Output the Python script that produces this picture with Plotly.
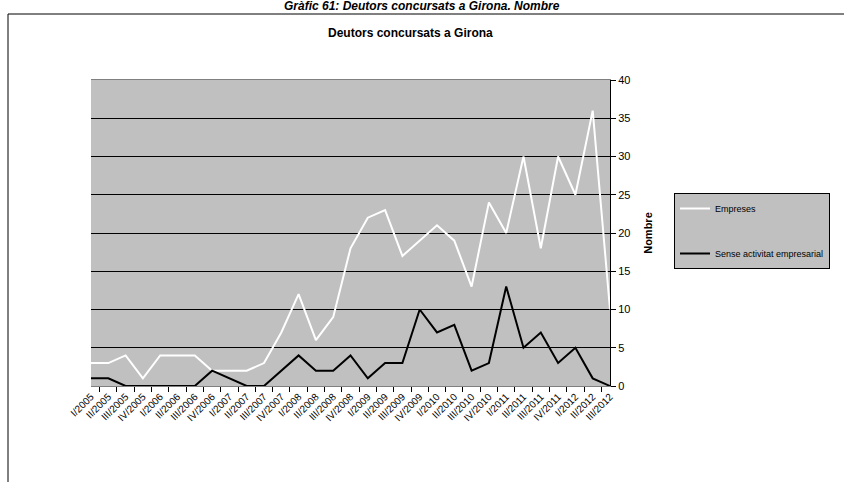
import plotly.graph_objects as go

categories = ["I/2005", "II/2005", "III/2005", "IV/2005",
              "I/2006", "II/2006", "III/2006", "IV/2006",
              "I/2007", "II/2007", "III/2007", "IV/2007",
              "I/2008", "II/2008", "III/2008", "IV/2008",
              "I/2009", "II/2009", "III/2009", "IV/2009",
              "I/2010", "II/2010", "III/2010", "IV/2010",
              "I/2011", "II/2011", "III/2011", "IV/2011",
              "I/2012", "II/2012", "III/2012"]
empreses = [3, 3, 4, 1, 4, 4, 4, 2, 2, 2, 3, 7, 12, 6, 9, 18, 22, 23, 17, 19,
            21, 19, 13, 24, 20, 30, 18, 30, 25, 36, 10]
sense_activitat = [1, 1, 0, 0, 0, 0, 0, 2, 1, 0, 0, 2, 4, 2, 2, 4, 1, 3, 3, 10,
                   7, 8, 2, 3, 13, 5, 7, 3, 5, 1, 0]
y_ticks = [0, 5, 10, 15, 20, 25, 30, 35, 40]

W, H = 844, 482
FONT = "Liberation Sans, Arial, sans-serif"

fig = go.Figure()
fig.add_trace(go.Scatter(x=categories, y=empreses, mode="lines", name="Empreses",
                         line=dict(color="white", width=2), legendgroup="a"))
fig.add_trace(go.Scatter(x=categories, y=sense_activitat, mode="lines",
                         name="Sense activitat empresarial",
                         line=dict(color="black", width=2), legendgroup="b"))

x0, x1 = 91 / W, 610 / W
y_top, y_bot = 1 - 80 / H, 1 - 386 / H

fig.update_layout(
    width=W, height=H,
    margin=dict(l=0, r=0, t=0, b=0, autoexpand=False),
    paper_bgcolor="white",
    plot_bgcolor="#C0C0C0",
    font=dict(family=FONT, size=10, color="black"),
    xaxis=dict(domain=[x0, x1], type="category", tickangle=-45,
               tickson="boundaries", ticks="outside", ticklen=5,
               tickcolor="black", showgrid=False, showline=True,
               linecolor="#808080", linewidth=1, mirror=True,
               automargin=False,
               tickfont=dict(size=10, family=FONT), fixedrange=True),
    yaxis=dict(domain=[y_bot, y_top], side="right", range=[0, 40],
               tickvals=y_ticks, ticks="outside", ticklen=5, tickcolor="black",
               showgrid=True, gridcolor="black", gridwidth=1,
               showline=True, linecolor="black", linewidth=1,
               zeroline=False, automargin=False,
               tickfont=dict(size=11, family=FONT),
               title=dict(text="<b>Nombre</b>", font=dict(size=11, family=FONT),
                          standoff=14)),
    legend=dict(x=674 / W, y=1 - 193 / H, xanchor="left", yanchor="top",
                bgcolor="#C0C0C0", bordercolor="black", borderwidth=1,
                font=dict(size=9, family=FONT), tracegroupgap=26,
                traceorder="grouped", itemwidth=30),
    showlegend=True,
)

# main title and subtitle
fig.add_annotation(text="<b><i>Gràfic 61: Deutors concursats a Girona. Nombre</i></b>",
                   x=422 / W, y=1 - 6 / H, xref="paper", yref="paper",
                   xanchor="center", yanchor="middle", showarrow=False,
                   font=dict(size=12, family=FONT))
fig.add_annotation(text="<b>Deutors concursats a Girona</b>",
                   x=410 / W, y=1 - 33 / H, xref="paper", yref="paper",
                   xanchor="center", yanchor="middle", showarrow=False,
                   font=dict(size=12, family=FONT))

# outer frame
fig.add_shape(type="line", xref="paper", yref="paper",
              x0=8 / W, x1=1, y0=1 - 14 / H, y1=1 - 14 / H,
              line=dict(color="black", width=1))
fig.add_shape(type="line", xref="paper", yref="paper",
              x0=8 / W, x1=8 / W, y0=0, y1=1 - 14 / H,
              line=dict(color="black", width=1))

fig.write_html("out.html", config={"displayModeBar": False},
               post_script="document.body.style.margin='0';document.body.style.overflow='hidden';")
